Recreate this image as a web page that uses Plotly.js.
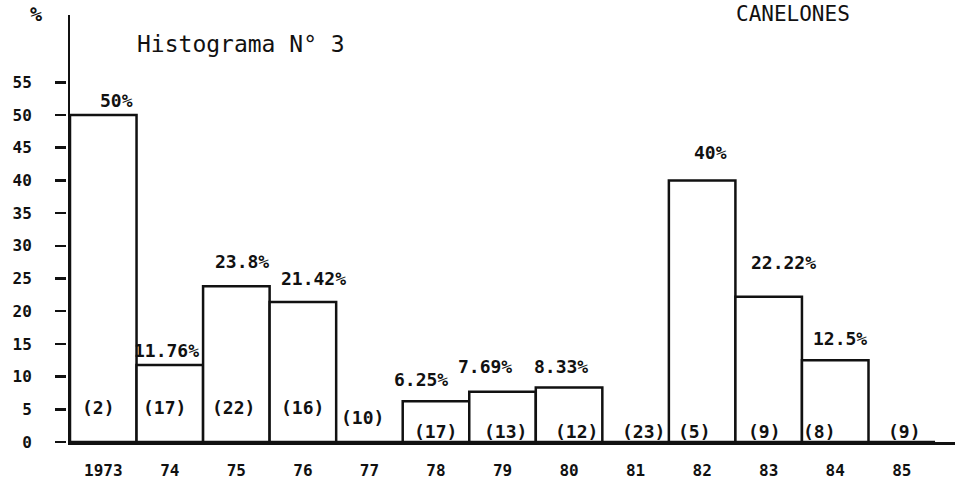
<!DOCTYPE html>
<html>
<head>
<meta charset="utf-8">
<script src="https://cdn.plot.ly/plotly-3.0.1.min.js"></script>
<style>html,body{margin:0;padding:0;background:#fff;}#chart{width:958px;height:487px;}</style>
</head>
<body>
<div id="chart"></div>
<script>
// ---- data ----
const years = ['1973', '74', '75', '76', '77', '78', '79', '80', '81', '82', '83', '84', '85'];
const percents = [50, 11.76, 23.8, 21.42, 0, 6.25, 7.69, 8.33, 0, 40, 22.22, 12.5, 0];
const counts = [2, 17, 22, 16, 10, 17, 13, 12, 23, 5, 9, 8, 9];
const yTicks = [0, 5, 10, 15, 20, 25, 30, 35, 40, 45, 50, 55];
const chartTitle = 'Histograma N° 3';
const placeName = 'CANELONES';
const unitLabel = '%';

// ---- layout nudges (pixels) for the hand-typed labels ----
const pctNudgeX = [13, -3, 6, 11, 0, -15, -18, -8, 0, 8, 15, 5, 0];
const pctNudgeY = [15, 15, 25, 23, 0, 22, 25, 21, 0, 28, 34, 22, 0];
const cntNudgeX = [-5, -5, -3, 0, -7, 0, 3, 7, 8, -8, -4, -16, 3];
const cntNudgeY = [35, 35, 35, 35, 25, 11, 11, 11, 11, 11, 11, 11, 11];

const ink = '#111';
const mono = '"DejaVu Sans Mono", "Liberation Mono", monospace';
const yMax = 65.3;

const bars = {
  type: 'bar',
  x: years,
  y: percents,
  marker: {color: '#fff', line: {color: ink, width: 2.5}},
  hoverinfo: 'x+y',
  showlegend: false
};
const ghost = {
  type: 'scatter',
  mode: 'none',
  x: years,
  y: percents,
  yaxis: 'y2',
  hoverinfo: 'skip',
  showlegend: false
};

const annotations = [];
years.forEach((yr, i) => {
  // category axis: annotations addressed by category index
  if (percents[i] > 0) {
    annotations.push({
      x: i, y: percents[i], xref: 'x', yref: 'y',
      text: String(percents[i]) + '%',
      showarrow: false, xanchor: 'center', yanchor: 'middle',
      xshift: pctNudgeX[i], yshift: pctNudgeY[i],
      font: {family: mono, size: 18, color: ink, weight: 'bold'}
    });
  }
  annotations.push({
    x: i, y: 0, xref: 'x', yref: 'y',
    text: '(' + counts[i] + ')',
    showarrow: false, xanchor: 'center', yanchor: 'middle',
    xshift: cntNudgeX[i], yshift: cntNudgeY[i],
    font: {family: mono, size: 18, color: ink, weight: 'bold'}
  });
});
annotations.push({
  x: 793, y: 14, xref: 'paper', yref: 'paper', text: placeName, showarrow: false,
  font: {family: mono, size: 21, color: ink}, xanchor: 'center', yanchor: 'middle'
});
annotations.push({
  x: 36, y: 14, xref: 'paper', yref: 'paper', text: unitLabel, showarrow: false,
  font: {family: mono, size: 20, color: ink, weight: 'bold'}, xanchor: 'center', yanchor: 'middle'
});

// convert pixel-placed paper annotations
const L = 50, R = 3, T = 15, B = 45, W = 958, H = 487;
const pw = W - L - R, ph = H - T - B;
annotations.forEach(a => {
  if (a.xref === 'paper') {
    a.x = (a.x - L) / pw;
    a.y = (H - B - a.y) / ph;
  }
});

const layout = {
  width: W, height: H,
  margin: {l: L, r: R, t: T, b: B, pad: 0},
  paper_bgcolor: '#fff', plot_bgcolor: '#fff',
  bargap: 0,
  title: {
    text: chartTitle, xref: 'container', yref: 'container',
    x: 137 / W, xanchor: 'left', y: 1 - 44 / H, yanchor: 'middle',
    font: {family: mono, size: 23, color: ink}
  },
  xaxis: {
    type: 'category',
    domain: [(70 - L) / pw, 1],
    range: [-0.5, 12.8],
    showline: true, linecolor: ink, linewidth: 2.5,
    ticks: '', showgrid: false, zeroline: false,
    tickfont: {family: mono, size: 16, color: ink, weight: 'bold'},
    ticklabelstandoff: 12,
    fixedrange: true
  },
  yaxis: {
    range: [0, yMax],
    showline: true, linecolor: ink, linewidth: 2.5,
    ticks: '', showticklabels: false, showgrid: false, zeroline: false,
    fixedrange: true
  },
  yaxis2: {
    overlaying: 'y', anchor: 'free', position: (66 - L) / pw, side: 'left',
    range: [0, yMax],
    showline: false, showgrid: false, zeroline: false,
    ticks: 'outside', ticklen: 11, tickwidth: 2.5, tickcolor: ink,
    tickmode: 'array', tickvals: yTicks, ticktext: yTicks.map(String),
    tickfont: {family: mono, size: 16, color: ink, weight: 'bold'},
    ticklabelstandoff: 20,
    fixedrange: true
  },
  annotations: annotations
};

Plotly.newPlot('chart', [bars, ghost], layout, {displayModeBar: false, staticPlot: true});
</script>
</body>
</html>
